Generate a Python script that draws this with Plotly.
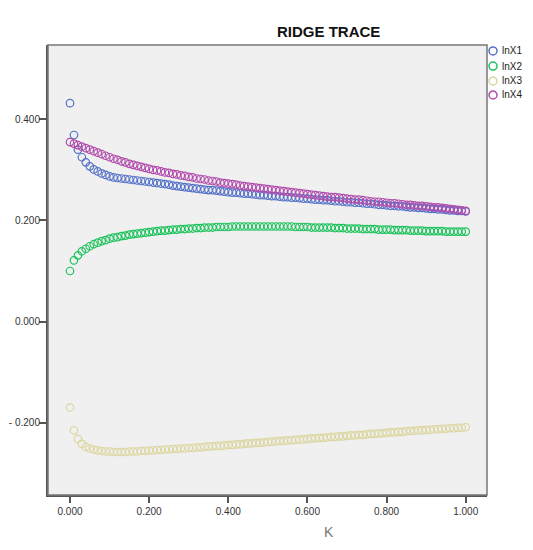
import plotly.graph_objects as go

# ridge parameter K (step 0.01)
k = [0.00, 0.01, 0.02, 0.03, 0.04, 0.05, 0.06, 0.07, 0.08, 0.09,
     0.10, 0.11, 0.12, 0.13, 0.14, 0.15, 0.16, 0.17, 0.18, 0.19,
     0.20, 0.21, 0.22, 0.23, 0.24, 0.25, 0.26, 0.27, 0.28, 0.29,
     0.30, 0.31, 0.32, 0.33, 0.34, 0.35, 0.36, 0.37, 0.38, 0.39,
     0.40, 0.41, 0.42, 0.43, 0.44, 0.45, 0.46, 0.47, 0.48, 0.49,
     0.50, 0.51, 0.52, 0.53, 0.54, 0.55, 0.56, 0.57, 0.58, 0.59,
     0.60, 0.61, 0.62, 0.63, 0.64, 0.65, 0.66, 0.67, 0.68, 0.69,
     0.70, 0.71, 0.72, 0.73, 0.74, 0.75, 0.76, 0.77, 0.78, 0.79,
     0.80, 0.81, 0.82, 0.83, 0.84, 0.85, 0.86, 0.87, 0.88, 0.89,
     0.90, 0.91, 0.92, 0.93, 0.94, 0.95, 0.96, 0.97, 0.98, 0.99,
     1.00]

lnx1 = [0.432, 0.369, 0.340, 0.325, 0.315, 0.307, 0.301, 0.297, 0.293, 0.290,
        0.287, 0.285, 0.284, 0.283, 0.282, 0.281, 0.280, 0.279, 0.278, 0.277,
        0.276, 0.275, 0.274, 0.273, 0.272, 0.271, 0.269, 0.268, 0.267, 0.266,
        0.265, 0.264, 0.263, 0.262, 0.261, 0.260, 0.260, 0.259, 0.258, 0.257,
        0.256, 0.255, 0.255, 0.254, 0.253, 0.253, 0.252, 0.251, 0.250, 0.250,
        0.249, 0.248, 0.248, 0.247, 0.246, 0.246, 0.245, 0.245, 0.244, 0.243,
        0.243, 0.242, 0.241, 0.241, 0.240, 0.240, 0.239, 0.238, 0.238, 0.237,
        0.236, 0.236, 0.235, 0.235, 0.234, 0.233, 0.233, 0.232, 0.231, 0.231,
        0.230, 0.229, 0.229, 0.228, 0.228, 0.227, 0.226, 0.226, 0.225, 0.225,
        0.224, 0.223, 0.223, 0.222, 0.222, 0.221, 0.220, 0.220, 0.219, 0.219,
        0.218]

lnx2 = [0.100, 0.121, 0.131, 0.139, 0.144, 0.149, 0.153, 0.156, 0.159, 0.161,
        0.164, 0.166, 0.167, 0.169, 0.170, 0.172, 0.173, 0.174, 0.175, 0.176,
        0.177, 0.178, 0.179, 0.180, 0.180, 0.181, 0.182, 0.182, 0.183, 0.183,
        0.184, 0.184, 0.185, 0.185, 0.186, 0.186, 0.186, 0.187, 0.187, 0.187,
        0.187, 0.188, 0.188, 0.188, 0.188, 0.188, 0.188, 0.188, 0.188, 0.188,
        0.188, 0.188, 0.188, 0.188, 0.188, 0.188, 0.188, 0.187, 0.187, 0.187,
        0.187, 0.186, 0.186, 0.186, 0.186, 0.186, 0.186, 0.185, 0.185, 0.185,
        0.184, 0.184, 0.184, 0.184, 0.183, 0.183, 0.183, 0.183, 0.182, 0.182,
        0.182, 0.182, 0.181, 0.181, 0.181, 0.181, 0.180, 0.180, 0.180, 0.180,
        0.179, 0.179, 0.179, 0.179, 0.179, 0.178, 0.178, 0.178, 0.178, 0.178,
        0.178]

lnx3 = [-0.170, -0.215, -0.232, -0.242, -0.248, -0.251, -0.253, -0.255, -0.256, -0.257,
        -0.257, -0.258, -0.258, -0.258, -0.258, -0.257, -0.257, -0.257, -0.256, -0.256,
        -0.255, -0.255, -0.254, -0.254, -0.253, -0.253, -0.252, -0.252, -0.251, -0.251,
        -0.250, -0.250, -0.249, -0.249, -0.248, -0.247, -0.247, -0.246, -0.246, -0.245,
        -0.244, -0.244, -0.243, -0.243, -0.242, -0.241, -0.241, -0.240, -0.240, -0.239,
        -0.238, -0.238, -0.237, -0.236, -0.236, -0.235, -0.235, -0.234, -0.233, -0.233,
        -0.232, -0.231, -0.231, -0.230, -0.230, -0.229, -0.228, -0.228, -0.227, -0.227,
        -0.226, -0.225, -0.225, -0.224, -0.224, -0.223, -0.222, -0.222, -0.221, -0.221,
        -0.220, -0.219, -0.219, -0.218, -0.218, -0.217, -0.216, -0.216, -0.215, -0.215,
        -0.214, -0.214, -0.213, -0.213, -0.212, -0.212, -0.211, -0.211, -0.210, -0.210,
        -0.209]

lnx4 = [0.355, 0.352, 0.349, 0.346, 0.343, 0.340, 0.337, 0.334, 0.331, 0.328,
        0.325, 0.322, 0.320, 0.317, 0.315, 0.312, 0.310, 0.308, 0.306, 0.304,
        0.302, 0.300, 0.299, 0.297, 0.295, 0.294, 0.292, 0.291, 0.289, 0.288,
        0.286, 0.285, 0.283, 0.282, 0.281, 0.279, 0.278, 0.277, 0.275, 0.274,
        0.273, 0.272, 0.271, 0.269, 0.268, 0.267, 0.266, 0.265, 0.264, 0.263,
        0.262, 0.261, 0.260, 0.259, 0.258, 0.257, 0.256, 0.255, 0.254, 0.253,
        0.252, 0.251, 0.250, 0.249, 0.248, 0.247, 0.246, 0.246, 0.245, 0.244,
        0.243, 0.242, 0.241, 0.241, 0.240, 0.239, 0.238, 0.237, 0.237, 0.236,
        0.235, 0.234, 0.234, 0.233, 0.232, 0.231, 0.231, 0.230, 0.229, 0.229,
        0.228, 0.227, 0.226, 0.226, 0.225, 0.224, 0.223, 0.222, 0.221, 0.220,
        0.219]

names = ['lnX1', 'lnX2', 'lnX3', 'lnX4']
colors = ['#5672c8', '#1dc25c', '#dcd6a0', '#b14cac']

xtick_vals = [0.0, 0.2, 0.4, 0.6, 0.8, 1.0]
xtick_text = ['0.000', '0.200', '0.400', '0.600', '0.800', '1.000']
ytick_vals = [-0.2, 0.0, 0.2, 0.4]
ytick_text = ['- 0.200', '0.000', '0.200', '0.400']

FONT = 'Arial, Liberation Sans, sans-serif'

fig = go.Figure()
for name, ys, c in zip(names, [lnx1, lnx2, lnx3, lnx4], colors):
    fig.add_trace(go.Scatter(
        x=k, y=ys, mode='markers', name=name, showlegend=False,
        marker=dict(symbol='circle-open', size=7.5, color=c, line=dict(width=1.2, color=c))))

fig.update_xaxes(
    range=[-0.0556, 1.0538], tickvals=xtick_vals, ticktext=xtick_text,
    ticks='outside', ticklen=6, tickwidth=2, tickcolor='#555555',
    showline=True, linewidth=2, linecolor='#555555',
    showgrid=False, zeroline=False,
    tickfont=dict(family=FONT, size=10, color='#333333'))
fig.update_yaxes(
    range=[-0.343, 0.547], tickvals=ytick_vals, ticktext=ytick_text,
    ticks='outside', ticklen=7, tickwidth=2, tickcolor='#555555',
    ticklabelstandoff=-3,
    showline=True, linewidth=2, linecolor='#555555',
    showgrid=False, zeroline=False,
    tickfont=dict(family=FONT, size=10, color='#333333'))

# plot frame
fig.add_shape(type='rect', xref='paper', yref='paper', x0=0, y0=0, x1=1, y1=1,
              line=dict(color='#777777', width=1.5), layer='above')

# legend built by hand (SPSS style, tight spacing)
leg_y = [0.9867, 0.9533, 0.92, 0.8889]
for name, c, yy in zip(names, colors, leg_y):
    fig.add_shape(type='circle', xref='paper', yref='paper',
                  x0=1.0137 - 0.0091, x1=1.0137 + 0.0091,
                  y0=yy - 0.0089, y1=yy + 0.0089,
                  line=dict(color=c, width=1.5))
    fig.add_annotation(x=1.0296, y=yy, xref='paper', yref='paper', text=name,
                       showarrow=False, xanchor='left', yanchor='middle',
                       font=dict(family=FONT, size=10, color='#222222'))

fig.add_annotation(x=0.638, y=1.031, xref='paper', yref='paper', text='<b>RIDGE TRACE</b>',
                   showarrow=False, xanchor='center', yanchor='middle',
                   font=dict(family=FONT, size=15, color='#111111'))
fig.add_annotation(x=0.640, y=-0.082, xref='paper', yref='paper', text='K',
                   showarrow=False, xanchor='center', yanchor='middle',
                   font=dict(family=FONT, size=14, color='#777777'))

# page body has an 8px margin, so the figure is 8px smaller than the window
fig.update_layout(
    width=525, height=542,
    margin=dict(l=40, r=46, t=37, b=55, autoexpand=False),
    paper_bgcolor='white', plot_bgcolor='#f0f0f0',
    showlegend=False,
)

fig.write_html("out.html")
